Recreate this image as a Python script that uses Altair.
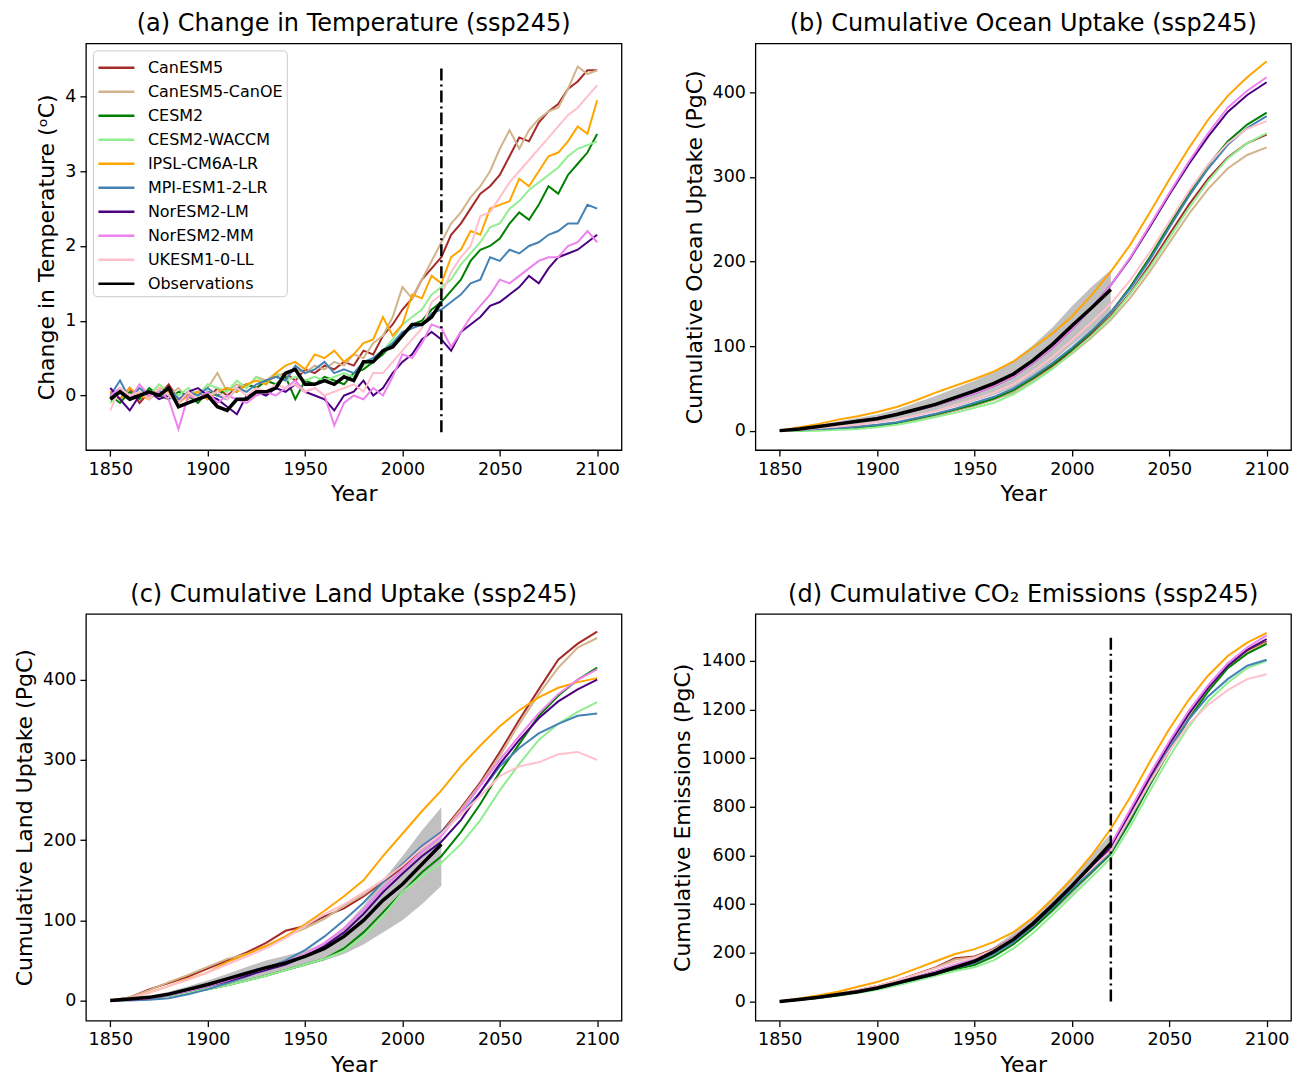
import altair as alt
import pandas as pd

MODELS = ["CanESM5", "CanESM5-CanOE", "CESM2", "CESM2-WACCM", "IPSL-CM6A-LR",
          "MPI-ESM1-2-LR", "NorESM2-LM", "NorESM2-MM", "UKESM1-0-LL"]
COLORS = ["#a52a2a", "#d2b48c", "#008000", "#90ee90", "#ffa500",
          "#4682b4", "#4b0082", "#ee82ee", "#ffc0cb"]
OBS = "Observations"

YEARS_5 = list(range(1850, 2101, 5))
OBS_YEARS_5 = list(range(1850, 2021, 5))
YEARS_10 = list(range(1850, 2101, 10))
OBS_YEARS_10 = list(range(1850, 2021, 10))
X_TICKS = [1850, 1900, 1950, 2000, 2050, 2100]

# ---------------- (a) temperature change (5-year samples) ----------------
T_CanESM5 = [0.05, -0.05, 0.10, -0.10, 0.05, 0.00, 0.15, -0.05, 0.00, 0.05, -0.05,
             0.10, 0.00, 0.10, 0.15, 0.10, 0.20, 0.25, 0.30, 0.20, 0.35,
             0.30, 0.40, 0.35, 0.45, 0.40, 0.60, 0.55, 0.80, 0.95, 1.15,
             1.30, 1.55, 1.70, 1.85, 2.15, 2.30, 2.50, 2.70, 2.80, 2.95,
             3.20, 3.45, 3.40, 3.65, 3.80, 3.90, 4.10, 4.20, 4.35, 4.35]
T_CanOE = [-0.05, 0.10, 0.00, 0.10, -0.05, 0.05, 0.00, 0.10, -0.05, 0.05, 0.10,
           0.30, 0.05, 0.15, 0.10, 0.25, 0.20, 0.30, 0.25, 0.35, 0.30,
           0.40, 0.35, 0.45, 0.40, 0.55, 0.50, 0.70, 0.80, 1.05, 1.45,
           1.30, 1.55, 1.80, 2.05, 2.30, 2.45, 2.65, 2.80, 3.00, 3.30,
           3.55, 3.30, 3.55, 3.70, 3.80, 3.85, 4.10, 4.40, 4.30, 4.35]
T_CESM2 = [0.00, -0.10, 0.05, -0.05, 0.10, 0.00, -0.05, 0.05, 0.00, -0.10, 0.05,
           0.00, 0.10, 0.05, 0.15, 0.10, 0.20, 0.15, 0.25, -0.05, 0.20,
           0.15, 0.25, 0.20, 0.15, 0.30, 0.35, 0.45, 0.55, 0.70, 0.80,
           0.95, 1.00, 1.15, 1.25, 1.40, 1.55, 1.80, 1.95, 2.00, 2.10,
           2.30, 2.45, 2.35, 2.55, 2.80, 2.70, 2.95, 3.10, 3.25, 3.50]
T_WACCM = [-0.10, 0.05, -0.05, 0.10, 0.00, 0.15, 0.05, 0.00, 0.10, 0.00, 0.15,
           0.10, 0.05, 0.20, 0.10, 0.25, 0.15, 0.30, 0.20, 0.25, 0.20,
           0.25, 0.20, 0.25, 0.30, 0.25, 0.40, 0.50, 0.60, 0.75, 0.95,
           1.05, 1.15, 1.35, 1.45, 1.55, 1.75, 1.90, 2.05, 2.25, 2.30,
           2.50, 2.60, 2.75, 2.85, 2.95, 3.05, 3.20, 3.30, 3.35, 3.40]
T_IPSL = [0.05, -0.05, 0.10, 0.00, -0.05, 0.10, 0.05, -0.10, 0.00, 0.05, -0.05,
          0.05, 0.10, 0.05, 0.15, 0.20, 0.15, 0.30, 0.40, 0.45, 0.35,
          0.55, 0.50, 0.60, 0.45, 0.55, 0.70, 0.75, 1.05, 0.80, 0.95,
          1.35, 1.30, 1.60, 1.50, 1.85, 1.95, 2.20, 2.15, 2.50, 2.55,
          2.60, 2.90, 2.80, 3.00, 3.20, 3.25, 3.40, 3.60, 3.50, 3.95]
T_MPI = [0.00, 0.20, -0.05, 0.10, 0.00, 0.05, 0.10, -0.05, 0.05, 0.00, 0.10,
         0.00, -0.05, 0.10, 0.05, 0.15, 0.20, 0.25, 0.20, 0.40, 0.30,
         0.35, 0.45, 0.30, 0.35, 0.30, 0.45, 0.50, 0.60, 0.70, 0.85,
         0.90, 0.95, 1.10, 1.15, 1.25, 1.35, 1.50, 1.55, 1.85, 1.80,
         1.95, 1.90, 2.00, 2.05, 2.15, 2.20, 2.30, 2.30, 2.55, 2.50]
T_NorLM = [0.10, -0.05, -0.20, 0.00, 0.05, -0.05, 0.00, -0.10, 0.05, 0.10, 0.00,
           -0.05, -0.15, -0.25, 0.00, 0.05, 0.00, 0.10, 0.05, 0.15, 0.05,
           0.00, -0.05, -0.20, 0.00, 0.05, 0.20, 0.00, 0.10, 0.30, 0.45,
           0.55, 0.75, 0.85, 0.75, 0.60, 0.85, 0.95, 1.05, 1.20, 1.25,
           1.35, 1.45, 1.60, 1.50, 1.70, 1.85, 1.90, 1.95, 2.05, 2.15]
T_NorMM = [0.00, 0.10, -0.05, 0.15, 0.00, 0.05, -0.05, -0.45, 0.00, -0.05, 0.05,
           -0.10, 0.00, -0.05, -0.10, 0.00, 0.05, 0.00, 0.10, 0.20, 0.05,
           0.10, 0.00, -0.40, -0.10, 0.00, -0.05, 0.10, 0.00, 0.25, 0.55,
           0.50, 0.70, 0.95, 0.90, 0.65, 0.85, 1.05, 1.20, 1.35, 1.55,
           1.50, 1.60, 1.70, 1.80, 1.85, 1.85, 2.00, 2.05, 2.20, 2.05]
T_UKESM = [-0.20, 0.10, 0.00, 0.05, -0.05, 0.10, 0.00, -0.10, 0.05, -0.05, 0.00,
           0.05, -0.05, 0.10, 0.00, 0.10, 0.05, 0.15, 0.10, 0.15, 0.05,
           0.10, 0.00, 0.05, 0.10, 0.15, 0.05, 0.30, 0.30, 0.45, 0.60,
           0.75, 0.90, 1.25, 1.35, 1.65, 1.85, 2.00, 2.40, 2.45, 2.65,
           2.85, 3.00, 3.15, 3.30, 3.45, 3.60, 3.75, 3.85, 4.00, 4.15]
T_OBS = [-0.05, 0.05, -0.05, 0.00, 0.05, 0.00, 0.10, -0.15, -0.10, -0.05, 0.00,
         -0.15, -0.20, -0.05, -0.05, 0.05, 0.05, 0.10, 0.30, 0.35, 0.15,
         0.15, 0.20, 0.15, 0.25, 0.20, 0.45, 0.45, 0.60, 0.65, 0.80,
         0.95, 0.95, 1.05, 1.25]
T_VLINE = [2020, -0.49, 4.41]

# ---------------- (b) cumulative ocean uptake (decadal) ----------------
O_CanESM5 = [0, 1, 2, 3, 4, 6, 9, 13, 18, 24, 30, 37, 46, 60, 76, 94, 114, 136, 163, 196, 232, 267, 298, 323, 340, 350]
O_CanOE = [0, 1, 2, 3, 4, 6, 9, 13, 18, 24, 30, 37, 46, 59, 74, 91, 110, 131, 157, 188, 222, 256, 286, 310, 326, 335]
O_CESM2 = [0, 0, 1, 2, 3, 5, 9, 14, 19, 25, 31, 38, 48, 62, 78, 96, 117, 140, 170, 205, 243, 280, 314, 342, 362, 376]
O_WACCM = [0, 0, 0, 1, 2, 4, 7, 11, 16, 21, 27, 33, 43, 57, 73, 92, 112, 134, 162, 193, 228, 263, 295, 322, 340, 352]
O_IPSL = [0, 4, 8, 13, 17, 22, 28, 36, 45, 53, 61, 70, 82, 98, 115, 135, 160, 188, 220, 258, 297, 334, 368, 396, 418, 437]
O_MPI = [0, 1, 2, 3, 5, 7, 10, 15, 20, 26, 33, 40, 50, 64, 80, 98, 118, 140, 168, 202, 240, 277, 310, 338, 358, 372]
O_NorLM = [0, 2, 5, 8, 11, 15, 19, 24, 30, 37, 44, 53, 64, 80, 98, 120, 145, 172, 204, 241, 279, 315, 348, 377, 397, 412]
O_NorMM = [0, 2, 5, 8, 11, 15, 19, 24, 30, 37, 44, 53, 64, 80, 98, 120, 145, 172, 205, 243, 281, 318, 352, 382, 402, 418]
O_UKESM = [0, 1, 3, 5, 7, 10, 13, 18, 23, 30, 37, 45, 55, 70, 87, 107, 128, 150, 178, 211, 247, 283, 315, 340, 357, 366]
O_OBS = [0, 2, 5, 8, 11, 14, 19, 25, 31, 39, 47, 56, 67, 83, 102, 124, 145, 167]
O_LO = [0, 1, 3, 5, 7, 9, 13, 17, 22, 28, 35, 42, 51, 65, 82, 101, 120, 140]
O_HI = [0, 3, 7, 11, 15, 19, 25, 33, 41, 50, 59, 70, 83, 101, 122, 147, 170, 190]

# ---------------- (c) cumulative land uptake (decadal) ----------------
L_CanESM5 = [0, 4, 14, 22, 30, 40, 50, 60, 72, 87, 93, 105, 115, 130, 148, 166, 190, 210, 240, 272, 310, 350, 388, 425, 445, 460]
L_CanOE = [0, 4, 13, 23, 32, 42, 52, 58, 68, 80, 90, 102, 118, 132, 150, 170, 192, 208, 238, 270, 305, 345, 382, 415, 440, 452]
L_CESM2 = [0, 1, 3, 6, 10, 14, 19, 25, 31, 38, 45, 52, 65, 85, 110, 135, 160, 180, 210, 245, 285, 320, 355, 380, 400, 415]
L_WACCM = [0, 1, 3, 6, 10, 14, 19, 25, 31, 38, 45, 52, 62, 80, 105, 135, 155, 172, 195, 225, 262, 295, 325, 345, 360, 372]
L_IPSL = [0, 3, 10, 18, 27, 35, 48, 58, 68, 80, 95, 112, 130, 150, 180, 208, 236, 262, 292, 318, 342, 362, 378, 390, 397, 402]
L_MPI = [0, 0, 1, 3, 8, 14, 22, 30, 40, 50, 63, 80, 100, 122, 148, 170, 193, 210, 232, 260, 292, 315, 333, 345, 355, 358]
L_NorLM = [0, 1, 3, 7, 12, 18, 24, 31, 38, 45, 55, 68, 85, 108, 135, 158, 180, 198, 225, 260, 295, 325, 352, 373, 388, 400]
L_NorMM = [0, 1, 3, 7, 12, 18, 25, 33, 40, 48, 58, 72, 90, 113, 140, 163, 185, 205, 235, 268, 300, 330, 358, 382, 400, 413]
L_UKESM = [0, 3, 10, 18, 26, 35, 45, 55, 65, 78, 93, 108, 120, 135, 150, 168, 190, 208, 232, 255, 280, 292, 297, 307, 310, 300]
L_OBS = [0, 2, 4, 8, 14, 20, 27, 34, 41, 47, 55, 65, 80, 100, 125, 145, 170, 195]
L_LO = [0, 1, 3, 6, 10, 15, 20, 25, 31, 37, 43, 50, 58, 70, 85, 100, 120, 143]
L_HI = [0, 3, 6, 11, 18, 25, 33, 42, 50, 56, 62, 72, 92, 118, 150, 180, 212, 241]

# ---------------- (d) cumulative emissions (decadal) ----------------
E_CanESM5 = [0, 9, 19, 31, 46, 63, 85, 112, 140, 178, 185, 215, 262, 322, 395, 470, 545, 622, 765, 912, 1052, 1178, 1285, 1375, 1440, 1480]
E_CanOE = [0, 9, 19, 31, 45, 62, 84, 110, 138, 172, 182, 212, 258, 318, 390, 465, 540, 615, 758, 905, 1045, 1170, 1280, 1370, 1435, 1475]
E_CESM2 = [0, 7, 15, 25, 38, 52, 70, 90, 110, 132, 150, 185, 235, 300, 375, 455, 530, 608, 742, 890, 1030, 1160, 1275, 1370, 1430, 1470]
E_WACCM = [0, 6, 14, 23, 35, 48, 65, 85, 105, 125, 140, 170, 218, 280, 355, 432, 510, 590, 720, 865, 1005, 1130, 1235, 1310, 1370, 1400]
E_IPSL = [0, 12, 25, 40, 60, 80, 105, 135, 165, 195, 215, 245, 285, 345, 420, 505, 600, 710, 840, 985, 1120, 1240, 1340, 1420, 1475, 1515]
E_MPI = [0, 7, 15, 25, 38, 53, 72, 92, 113, 137, 158, 195, 245, 310, 385, 462, 535, 615, 755, 900, 1040, 1160, 1255, 1325, 1380, 1405]
E_NorLM = [0, 8, 17, 28, 42, 58, 78, 100, 122, 148, 168, 205, 258, 320, 395, 472, 550, 635, 778, 922, 1058, 1182, 1290, 1380, 1445, 1490]
E_NorMM = [0, 8, 17, 28, 42, 58, 78, 100, 122, 150, 170, 210, 262, 325, 400, 478, 558, 645, 790, 935, 1070, 1195, 1300, 1390, 1455, 1505]
E_UKESM = [0, 9, 19, 31, 46, 63, 85, 110, 135, 162, 180, 212, 260, 322, 396, 472, 545, 620, 760, 900, 1030, 1140, 1220, 1280, 1325, 1345]
E_OBS = [0, 8, 17, 28, 40, 55, 75, 95, 115, 140, 165, 205, 255, 320, 395, 475, 560, 650]
E_LO = [0, 7, 15, 25, 36, 50, 68, 87, 105, 128, 150, 188, 235, 295, 365, 440, 520, 600]
E_HI = [0, 10, 20, 32, 46, 62, 84, 106, 128, 155, 182, 225, 280, 348, 428, 512, 600, 690]
E_VLINE = [2020, 0, 1505]

FONT = "DejaVu Sans"
W, H = 536, 407
X_DOMAIN = [1837.5, 2112.5]


def long_lines(years, series, obs_years, obs):
    rows = []
    for name, vals in zip(MODELS, series):
        for yr, v in zip(years, vals):
            rows.append({"year": yr, "value": v, "model": name})
    obs_rows = [{"year": yr, "value": v, "model": OBS} for yr, v in zip(obs_years, obs)]
    return pd.DataFrame(rows), pd.DataFrame(obs_rows)


def panel(years, series, obs_years, obs, title, ytitle, ydomain, yticks,
          band=None, vline=None, legend=False):
    df_m, df_o = long_lines(years, series, obs_years, obs)
    xenc = alt.X("year:Q", scale=alt.Scale(domain=X_DOMAIN, nice=False, zero=False),
                 axis=alt.Axis(values=X_TICKS, format="d", title="Year"))
    yscale = alt.Scale(domain=ydomain, nice=False, zero=False)
    yaxis = alt.Axis(values=yticks, format="d", title=ytitle)
    yenc = alt.Y("value:Q", scale=yscale, axis=yaxis)
    if legend:
        leg = alt.Legend(title=None, orient="top-left", offset=7, padding=4,
                         strokeColor="#cccccc", fillColor="rgba(255,255,255,0.85)",
                         cornerRadius=4, symbolType="M-1,0H2", symbolSize=576,
                         symbolStrokeWidth=2.5, labelFontSize=16, labelFont=FONT,
                         labelColor="black", rowPadding=2, labelOffset=24,
                         symbolOpacity=1)
    else:
        leg = None
    cenc = alt.Color("model:N",
                     scale=alt.Scale(domain=MODELS + [OBS], range=COLORS + ["black"]),
                     legend=leg)
    layers = []
    if band is not None:
        df_b = pd.DataFrame({"year": obs_years, "lo": band[0], "hi": band[1]})
        layers.append(alt.Chart(df_b).mark_area(color="#c0c0c0", opacity=1).encode(
            x=xenc, y=alt.Y("lo:Q", scale=yscale, axis=yaxis), y2="hi:Q"))
    layers.append(alt.Chart(df_m).mark_line(strokeWidth=2).encode(
        x=xenc, y=yenc, color=cenc))
    layers.append(alt.Chart(df_o).mark_line(strokeWidth=3.5).encode(
        x=xenc, y=yenc, color=cenc))
    if vline is not None:
        df_v = pd.DataFrame({"year": [vline[0]], "lo": [vline[1]], "hi": [vline[2]]})
        layers.append(alt.Chart(df_v).mark_rule(color="black", strokeWidth=2.5,
                                                strokeDash=[12, 4, 2, 4]).encode(
            x=alt.X("year:Q", scale=alt.Scale(domain=X_DOMAIN, nice=False, zero=False)),
            y=alt.Y("lo:Q", scale=yscale), y2="hi:Q"))
    return alt.layer(*layers).properties(
        width=W, height=H,
        title=alt.TitleParams(title, fontSize=24, font=FONT, fontWeight="normal",
                              anchor="middle", offset=7, color="black"))


pa = panel(YEARS_5, [T_CanESM5, T_CanOE, T_CESM2, T_WACCM, T_IPSL, T_MPI, T_NorLM, T_NorMM, T_UKESM],
           OBS_YEARS_5, T_OBS, "(a) Change in Temperature (ssp245)",
           "Change in Temperature (ᵒC)", [-0.73, 4.71], [0, 1, 2, 3, 4],
           vline=T_VLINE, legend=True)
pb = panel(YEARS_10, [O_CanESM5, O_CanOE, O_CESM2, O_WACCM, O_IPSL, O_MPI, O_NorLM, O_NorMM, O_UKESM],
           OBS_YEARS_10, O_OBS, "(b) Cumulative Ocean Uptake (ssp245)",
           "Cumulative Ocean Uptake (PgC)", [-23, 458], [0, 100, 200, 300, 400],
           band=(O_LO, O_HI))
pc = panel(YEARS_10, [L_CanESM5, L_CanOE, L_CESM2, L_WACCM, L_IPSL, L_MPI, L_NorLM, L_NorMM, L_UKESM],
           OBS_YEARS_10, L_OBS, "(c) Cumulative Land Uptake (ssp245)",
           "Cumulative Land Uptake (PgC)", [-25, 482], [0, 100, 200, 300, 400],
           band=(L_LO, L_HI))
pd_ = panel(YEARS_10, [E_CanESM5, E_CanOE, E_CESM2, E_WACCM, E_IPSL, E_MPI, E_NorLM, E_NorMM, E_UKESM],
            OBS_YEARS_10, E_OBS, "(d) Cumulative CO₂ Emissions (ssp245)",
            "Cumulative Emissions (PgC)", [-79, 1593], list(range(0, 1401, 200)),
            band=(E_LO, E_HI), vline=E_VLINE)

chart = alt.concat(pa, pb, pc, pd_, columns=2, spacing={"row": 164, "column": 134}).properties(
    bounds="flush", background="white",
    padding={"left": 4, "top": 3, "right": 0, "bottom": 5}
).resolve_scale(color="independent").resolve_legend(color="independent").configure_axis(
    labelFont=FONT, titleFont=FONT, labelFontSize=17.5, titleFontSize=22,
    titleFontWeight="normal", labelColor="black", titleColor="black",
    tickColor="black", tickWidth=1.3, tickSize=6, domain=False, grid=False,
    labelPadding=4, titlePadding=6
).configure_view(stroke="black", strokeWidth=1.3)

chart.save("out.html", embed_options={"renderer": "svg", "actions": False})
